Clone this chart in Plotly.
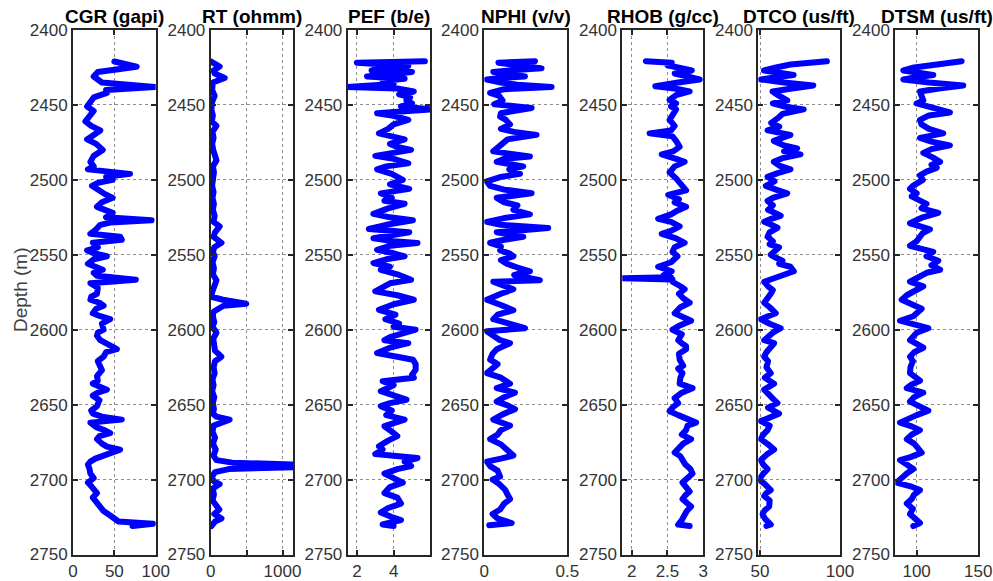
import plotly.graph_objects as go

# ---------------- log data (depth in m, value in curve units) ----------------
cgr_depth = [2421, 2424.5, 2428, 2431, 2435, 2438, 2440, 2442, 2445, 2448, 2451, 2454, 2457, 2461, 2464,
             2467, 2470, 2473, 2476, 2480, 2484, 2488, 2491, 2493, 2496, 2498, 2500, 2502, 2504, 2507,
             2509, 2512, 2515, 2518, 2520, 2522, 2525, 2527, 2528.5, 2530, 2533, 2536, 2538, 2540, 2542,
             2545, 2547, 2549, 2551, 2553, 2556, 2558, 2560, 2562, 2564, 2566.7, 2568, 2569, 2572, 2576,
             2578, 2580, 2582, 2584, 2586, 2589, 2591, 2593, 2596, 2600, 2602, 2604, 2607, 2609, 2611,
             2613, 2615, 2618, 2621, 2624, 2627, 2631, 2634, 2636, 2638, 2640, 2642, 2644, 2647, 2651,
             2654, 2656, 2658, 2660, 2662, 2665, 2667, 2669, 2671, 2673, 2676, 2678, 2680, 2682, 2684,
             2686, 2688, 2690, 2693, 2696, 2699, 2702, 2705, 2709, 2712, 2716, 2718, 2721, 2724, 2726,
             2728, 2729.5, 2731]
cgr = [50, 77, 30, 25, 35, 99, 40, 41, 25, 22, 17, 25, 20, 15, 22,
       33, 25, 17, 28, 36, 25, 21, 25, 18, 69, 40, 48, 30, 23, 30,
       37, 48, 35, 29, 40, 48, 40, 95, 45, 33, 28, 21, 57, 59, 24,
       30, 17, 25, 41, 25, 18, 28, 36, 25, 29, 76, 30, 21, 30, 29,
       22, 21, 32, 37, 28, 24, 33, 45, 35, 37, 30, 29, 33, 40, 49,
       53, 40, 37, 30, 33, 35, 29, 30, 24, 32, 41, 30, 24, 32, 29,
       22, 24, 35, 59, 21, 28, 38, 45, 32, 29, 35, 41, 57, 45, 37,
       27, 21, 18, 20, 21, 25, 18, 23, 29, 24, 29, 33, 37, 45, 51,
       55, 97, 72]

rt_depth = [2421, 2423, 2424.4, 2427, 2429, 2432, 2435, 2440, 2444, 2448, 2453, 2457, 2461, 2464, 2468,
            2472, 2476, 2480, 2484, 2487, 2491, 2495, 2500, 2504, 2508, 2512, 2516, 2520, 2524, 2528,
            2531, 2535, 2538, 2542, 2545, 2548, 2551, 2555, 2559, 2563, 2567, 2571, 2575, 2578, 2580,
            2582.7, 2584, 2585.5, 2588, 2591, 2595, 2598, 2602, 2606, 2610, 2614, 2618, 2621, 2625, 2629,
            2633, 2637, 2641, 2645, 2649, 2653, 2656, 2658, 2660, 2662, 2664, 2668, 2672, 2676, 2680,
            2684, 2687, 2688.7, 2690, 2691.7, 2693, 2695, 2698, 2701, 2703, 2706, 2710, 2714, 2717, 2720,
            2723, 2726, 2728, 2730, 2731]
rt = [0, 60, 125, 40, 55, 195, 30, 20, 55, 20, 10, 30, 15, 80, 25,
      40, 20, 35, 50, 80, 30, 45, 30, 20, 40, 25, 45, 30, 55, 40,
      125, 60, 40, 150, 50, 30, 55, 25, 45, 30, 80, 40, 20, 10, 170,
      495, 180, 125, 40, 30, 50, 25, 80, 35, 45, 60, 148, 60, 40, 55,
      25, 40, 20, 50, 30, 45, 30, 80, 264, 120, 40, 25, 60, 30, 70,
      40, 80, 300, 1146, 1146, 250, 60, 20, 40, 125, 30, 45, 25, 80, 120,
      50, 150, 60, 30, 10]

pef_depth = [2420.8, 2421.8, 2423, 2424, 2425.5, 2427, 2428, 2429.5, 2431, 2432.5, 2434, 2436, 2438, 2439,
             2441, 2443, 2445, 2447, 2449, 2451, 2453, 2454, 2455.5, 2457, 2460, 2463, 2466, 2469, 2471,
             2473, 2476, 2478, 2480, 2482, 2484, 2486, 2489, 2491, 2493, 2496, 2498, 2500, 2503, 2506,
             2509, 2512, 2514, 2516, 2519, 2522.7, 2525, 2527, 2530, 2532.8, 2535, 2537, 2539, 2541,
             2542.2, 2544, 2546.7, 2549, 2551, 2553, 2555.5, 2558, 2560, 2563, 2566.7, 2569, 2572,
             2574.4, 2577, 2580, 2583, 2586.7, 2590, 2593, 2596, 2598, 2600, 2603, 2605, 2607, 2609,
             2612, 2615.6, 2618, 2620, 2623, 2626.7, 2630, 2632, 2634.4, 2637, 2641, 2644, 2646.7, 2649,
             2651, 2654, 2657, 2660, 2664.4, 2668, 2671, 2674, 2677.8, 2680, 2683, 2685.6, 2688, 2691,
             2693, 2696, 2699, 2702, 2705, 2709, 2712, 2716, 2719, 2722, 2725, 2727, 2730, 2731]
pef = [5.7, 2.0, 3.5, 4.8, 3.3, 2.8, 5.0, 3.6, 2.55, 4.6, 3.4, 4.0, 1.45, 4.2,
       5.1, 4.3, 4.9, 4.7, 5.0, 4.4, 6.1, 4.8, 3.1, 3.9, 4.8, 4.0, 3.7, 3.2, 4.0,
       4.6, 3.8, 4.2, 4.95, 3.8, 3.0, 4.0, 4.8, 3.6, 3.1, 3.9, 4.2, 4.5, 3.8, 4.85,
       3.3, 3.9, 3.5, 4.6, 3.7, 2.9, 3.8, 5.05, 3.6, 2.65, 4.85, 3.6, 2.9, 4.0,
       5.3, 3.8, 3.1, 4.0, 4.6, 3.6, 2.9, 3.8, 3.3, 4.2, 4.95, 3.8, 3.4,
       3.0, 4.2, 5.1, 4.0, 3.2, 4.1, 3.55, 4.3, 4.0, 5.2, 4.3, 3.8, 3.5, 4.8,
       3.8, 3.1, 4.2, 5.05, 5.2, 5.2, 5.0, 5.1, 3.4, 4.0, 3.3, 4.0, 4.7, 3.8,
       3.3, 3.9, 3.6, 4.6, 3.5, 3.9, 4.2, 3.7, 3.2, 3.4, 3.0, 5.3, 4.6, 4.95,
       4.2, 3.5, 4.1, 4.5, 3.8, 3.5, 4.2, 4.4, 3.7, 3.3, 3.9, 4.4, 3.4, 4.0]

nphi_depth = [2420.8, 2421.8, 2423.5, 2425.6, 2427, 2428, 2429.5, 2431, 2432, 2433, 2435, 2436.5, 2438,
              2439.5, 2442, 2444, 2447, 2449.5, 2452, 2454, 2455.5, 2457.8, 2460, 2463, 2466, 2468, 2470,
              2473, 2475.6, 2478, 2481, 2484.4, 2486, 2488, 2491, 2493, 2496, 2498, 2501, 2504, 2506.5,
              2509, 2512, 2515, 2517, 2520, 2523, 2525.5, 2528, 2530, 2532.2, 2535, 2538, 2540, 2542,
              2544.5, 2547, 2549, 2551, 2553.5, 2556, 2558.5, 2561, 2563.5, 2567, 2568, 2570.5, 2573,
              2576, 2580, 2583.5, 2587, 2590, 2593, 2596, 2599, 2601, 2604, 2607, 2609, 2611, 2613,
              2616, 2620, 2623, 2626, 2629, 2632, 2636, 2639, 2642, 2645, 2648, 2650.5, 2653, 2656.5,
              2660, 2664, 2667, 2670, 2673, 2676.5, 2680, 2684, 2686, 2688, 2691, 2694, 2698, 2700,
              2703, 2706.7, 2710, 2713, 2716, 2720, 2723, 2726, 2729, 2730.5]
nphi = [0.305, 0.085, 0.20, 0.345, 0.15, 0.054, 0.16, 0.245, 0.10, 0.015, 0.10, 0.20, 0.405,
        0.12, 0.035, 0.09, 0.11, 0.06, 0.285, 0.20, 0.10, 0.095, 0.13, 0.155, 0.10, 0.18, 0.315,
        0.14, 0.115, 0.08, 0.054, 0.275, 0.12, 0.075, 0.235, 0.15, 0.215, 0.10, 0.015, 0.035, 0.12,
        0.285, 0.075, 0.12, 0.20, 0.175, 0.275, 0.12, 0.015, 0.10, 0.385, 0.075, 0.235, 0.12, 0.035,
        0.10, 0.095, 0.15, 0.175, 0.10, 0.135, 0.20, 0.275, 0.18, 0.335, 0.054, 0.12, 0.175,
        0.10, 0.015, 0.10, 0.175, 0.08, 0.054, 0.15, 0.245, 0.015, 0.06, 0.095, 0.155, 0.11, 0.075,
        0.05, 0.035, 0.08, 0.04, 0.015, 0.10, 0.155, 0.075, 0.185, 0.12, 0.075, 0.14, 0.185, 0.11,
        0.054, 0.155, 0.10, 0.08, 0.035, 0.10, 0.135, 0.175, 0.10, 0.015, 0.035, 0.08, 0.095, 0.05,
        0.09, 0.125, 0.14, 0.155, 0.12, 0.095, 0.05, 0.08, 0.165, 0.03]

rhob_depth = [2420.8, 2421.8, 2423.5, 2425, 2427, 2429, 2431, 2433, 2435, 2437.5, 2439, 2441, 2443.5,
              2446.7, 2449, 2451, 2453, 2456, 2460, 2464, 2467, 2469, 2471, 2474, 2478, 2481, 2483,
              2486, 2488, 2491, 2495, 2499, 2503, 2507, 2510, 2513, 2515, 2518, 2521, 2523, 2526, 2528,
              2531, 2534, 2536, 2539, 2542, 2545, 2548, 2551, 2555, 2558, 2561, 2563.5, 2565, 2565.6,
              2566.5, 2568, 2571, 2573, 2576, 2579, 2582, 2585, 2589, 2591, 2594, 2597, 2600, 2603,
              2607, 2609, 2611, 2613, 2616, 2620, 2624, 2626, 2629, 2632, 2636, 2639, 2642, 2645.6,
              2649, 2651.5, 2654.4, 2657, 2660, 2662, 2664, 2667, 2670, 2673, 2676, 2679, 2682, 2684.5,
              2687, 2690, 2693, 2696, 2699, 2702, 2705, 2708, 2710.5, 2713, 2716, 2718, 2721, 2724.4,
              2727, 2730, 2731]
rhob = [2.20, 2.56, 2.50, 2.70, 2.84, 2.60, 2.75, 2.95, 2.65, 2.33, 2.60, 2.81, 2.62,
        2.53, 2.62, 2.55, 2.62, 2.57, 2.53, 2.60, 2.55, 2.25, 2.57, 2.62, 2.67, 2.58, 2.42,
        2.62, 2.74, 2.60, 2.53, 2.62, 2.70, 2.76, 2.51, 2.66, 2.60, 2.76, 2.62, 2.55, 2.37, 2.55,
        2.67, 2.55, 2.42, 2.62, 2.74, 2.60, 2.57, 2.64, 2.55, 2.37, 2.56, 2.45, 2.55, 1.87,
        2.57, 2.57, 2.68, 2.74, 2.66, 2.72, 2.81, 2.68, 2.60, 2.70, 2.83, 2.68, 2.57, 2.70,
        2.65, 2.70, 2.76, 2.76, 2.66, 2.67, 2.72, 2.65, 2.71, 2.68, 2.67, 2.85, 2.70, 2.60,
        2.65, 2.58, 2.53, 2.65, 2.81, 2.90, 2.78, 2.76, 2.70, 2.83, 2.72, 2.66, 2.60, 2.68,
        2.71, 2.75, 2.82, 2.85, 2.78, 2.71, 2.76, 2.81, 2.75, 2.71, 2.78, 2.83, 2.77, 2.74,
        2.70, 2.65, 2.81]

dtco_depth = [2420.8, 2422, 2423, 2425, 2427, 2428.5, 2430, 2431.5, 2433, 2435, 2437, 2439, 2441, 2444,
              2447, 2449, 2451, 2453, 2456, 2459, 2462, 2464.5, 2467, 2470, 2472, 2474, 2477, 2479,
              2481, 2483, 2485.5, 2488, 2490.5, 2493, 2495.5, 2498, 2501, 2504, 2506.5, 2509, 2512,
              2514, 2517, 2520, 2522, 2524, 2526, 2528, 2530, 2532, 2535, 2538, 2541, 2543, 2545,
              2547.5, 2550, 2552, 2554, 2556, 2558, 2561, 2563, 2565.6, 2567, 2568, 2571, 2573.5,
              2576, 2579, 2582, 2585, 2589, 2591, 2593, 2596, 2599, 2602, 2605, 2607, 2609, 2612,
              2615, 2618, 2621, 2625, 2629, 2632, 2636, 2640, 2643, 2646, 2649, 2652, 2656, 2658.5,
              2661, 2664, 2667, 2670, 2673, 2676.5, 2680, 2683.5, 2687, 2690, 2693, 2696, 2700, 2703,
              2707, 2709, 2711, 2714, 2718, 2720.5, 2723, 2726, 2728.5, 2730, 2731]
dtco = [91.8, 80, 69, 60, 52.4, 62, 71, 60, 50.5, 65, 83.3, 70, 57.8, 62,
        67, 58, 65, 77.3, 64, 60.9, 57, 62, 54.7, 69, 62, 58.6, 65, 73.2,
        65, 75.3, 64, 58.6, 62, 69, 61, 54.7, 59, 53.6, 60, 67, 58,
        54.7, 58, 55, 59, 62.9, 57, 52.6, 57, 60.9, 56, 54.7, 58, 56, 61.9,
        59, 56.7, 60, 64, 62, 69, 71.1, 66, 60.9, 56, 52.6, 55, 58,
        56.7, 55, 52.6, 56, 59.8, 55, 50.5, 56, 62.9, 58, 55, 52.6, 58.8, 56,
        54, 52.6, 55, 54, 56.7, 53, 58.8, 52.6, 56, 58, 60.9, 55, 61.9, 56,
        50.5, 56, 54.7, 52, 50.5, 55, 58.8, 54, 50.5, 52, 54.7, 52, 49.5, 53,
        56.7, 54, 52.6, 56, 55.7, 53, 51.6, 53, 55, 56.7, 54]

dtsm_depth = [2420.8, 2422, 2423, 2425, 2427, 2428.5, 2430, 2431.5, 2433, 2435, 2437, 2439, 2441, 2444,
              2447, 2449, 2451, 2453, 2455, 2457, 2460, 2463, 2466, 2469, 2472, 2474.5, 2477, 2479.5,
              2482, 2485, 2488, 2490, 2492, 2494.5, 2497, 2500, 2502, 2504, 2506, 2509, 2511, 2513,
              2516, 2519, 2522, 2525, 2527, 2529, 2531, 2533, 2535.5, 2538, 2541, 2544, 2546, 2548,
              2551, 2554, 2557, 2560, 2562, 2565, 2568, 2571, 2574, 2577, 2580, 2583, 2586, 2589,
              2591, 2594, 2596.5, 2599, 2602, 2605, 2607, 2609, 2612, 2615, 2618, 2621, 2625, 2629,
              2631.5, 2634, 2636.5, 2639, 2642, 2645, 2648, 2651, 2654, 2657, 2660, 2662, 2664.5,
              2667, 2670, 2673, 2676, 2679, 2682, 2685, 2687, 2690, 2693, 2696, 2698, 2700, 2702,
              2704.5, 2707, 2710, 2713, 2716, 2719.5, 2723, 2726, 2729, 2731]
dtsm = [136.5, 125, 110.8, 98, 89.2, 100, 113.5, 100, 89.2, 110, 137.8, 118, 102.7, 104,
        105.4, 100, 110, 119, 127, 110, 102.7, 104, 110, 121.6, 102.7, 112, 127, 112,
        105.4, 113, 119, 112, 116.3, 108, 102.7, 105, 100, 97, 94.6, 100, 96, 100,
        108, 104, 117.6, 105, 100, 94.6, 103, 110.8, 105, 102.7, 100, 94.6, 104, 113.5,
        108, 117.6, 112, 119, 108.1, 100, 94.6, 105.4, 98, 92, 87.9, 96, 104.1, 100,
        97.3, 86.5, 100, 109.5, 100, 97, 94.6, 99, 105.4, 98, 94.6, 97, 95, 94.6,
        98, 102.7, 96, 92, 105.4, 98, 94.6, 102, 109.5, 100, 92, 86.5, 96,
        102.7, 96, 92, 98, 101, 104.1, 95, 86.5, 92, 97.3, 92, 89.2, 86, 83.8,
        95, 102.7, 98, 96, 92, 97, 94.6, 99, 102.7, 97.3]

# ---------------- track definitions ----------------
titles = ["CGR (gapi)", "RT (ohmm)", "PEF (b/e)", "NPHI (v/v)", "RHOB (g/cc)", "DTCO (us/ft)", "DTSM (us/ft)"]
depths = [cgr_depth, rt_depth, pef_depth, nphi_depth, rhob_depth, dtco_depth, dtsm_depth]
values = [cgr, rt, pef, nphi, rhob, dtco, dtsm]
x_ranges = [[0, 100], [0, max(rt)], [1.5, 5.98], [0, 0.5], [1.87, 3.0], [48.9, 100], [82.7, 150]]
x_ticks = [[0, 50, 100], [0, 500, 1000], [2, 4], [0, 0.5], [2, 2.5, 3], [50, 100], [100, 150]]
x_ticktext = [["0", "50", "100"], ["0", "", "1000"], ["2", "4"], ["0", "0.5"],
              ["2", "2.5", "3"], ["50", "100"], ["100", "150"]]
depth_ticks = [2400, 2450, 2500, 2550, 2600, 2650, 2700, 2750]

W, H = 993, 581
track_px = [(73, 155.7), (210.7, 293), (347.7, 430), (484.3, 567.3),
            (622.3, 703.3), (758.3, 840), (895.3, 978.3)]
top_px, bottom_px = 30, 554.5

FONT = "Arial, Liberation Sans, Helvetica, sans-serif"
AX = "#262626"

axis_common = dict(
    showline=True, linewidth=2, linecolor=AX, mirror="ticks",
    ticks="inside", ticklen=5, tickwidth=2, tickcolor=AX,
    showgrid=True, gridcolor="#8c8c8c", griddash="dot", gridwidth=1,
    zeroline=False, automargin=False,
    tickfont=dict(family=FONT, size=17, color="#333333"),
)

fig = go.Figure()
layout = dict(
    width=W, height=H, margin=dict(l=0, r=0, t=0, b=0, autoexpand=False),
    paper_bgcolor="white", plot_bgcolor="white", showlegend=False,
    font=dict(family=FONT),
)
annotations = []

for i, (title, d, v) in enumerate(zip(titles, depths, values)):
    n = "" if i == 0 else str(i + 1)
    fig.add_trace(go.Scatter(
        x=v, y=d, mode="lines", xaxis="x" + n, yaxis="y" + n,
        line=dict(color="#0000ff", width=6), hoverinfo="skip",
    ))
    x0, x1 = track_px[i]
    layout["xaxis" + n] = dict(
        axis_common, domain=[x0 / W, x1 / W], range=x_ranges[i],
        tickvals=x_ticks[i], ticktext=x_ticktext[i], anchor="y" + n,
    )
    layout["yaxis" + n] = dict(
        axis_common, domain=[1 - bottom_px / H, 1 - top_px / H], range=[2750, 2400],
        tickvals=depth_ticks, anchor="x" + n,
    )
    annotations.append(dict(
        text="<b>%s</b>" % title, xref="paper", yref="paper",
        x=(x0 + x1) / 2 / W, y=1 - 16 / H, xanchor="center", yanchor="middle",
        showarrow=False, font=dict(family=FONT, size=19, color="black"),
    ))

annotations.append(dict(
    text="Depth (m)", xref="paper", yref="paper", x=20 / W, y=1 - 290 / H,
    xanchor="center", yanchor="middle", textangle=-90, showarrow=False,
    font=dict(family=FONT, size=19, color="#404040"),
))
layout["annotations"] = annotations
fig.update_layout(**layout)

# rounded joins so the log traces have soft corners at sharp spikes
round_joins = (
    "document.querySelectorAll('.scatterlayer path.js-line').forEach(function(p){"
    "p.style.strokeLinejoin='round';p.style.strokeLinecap='round';});"
)
fig.write_html("out.html", post_script=round_joins)
